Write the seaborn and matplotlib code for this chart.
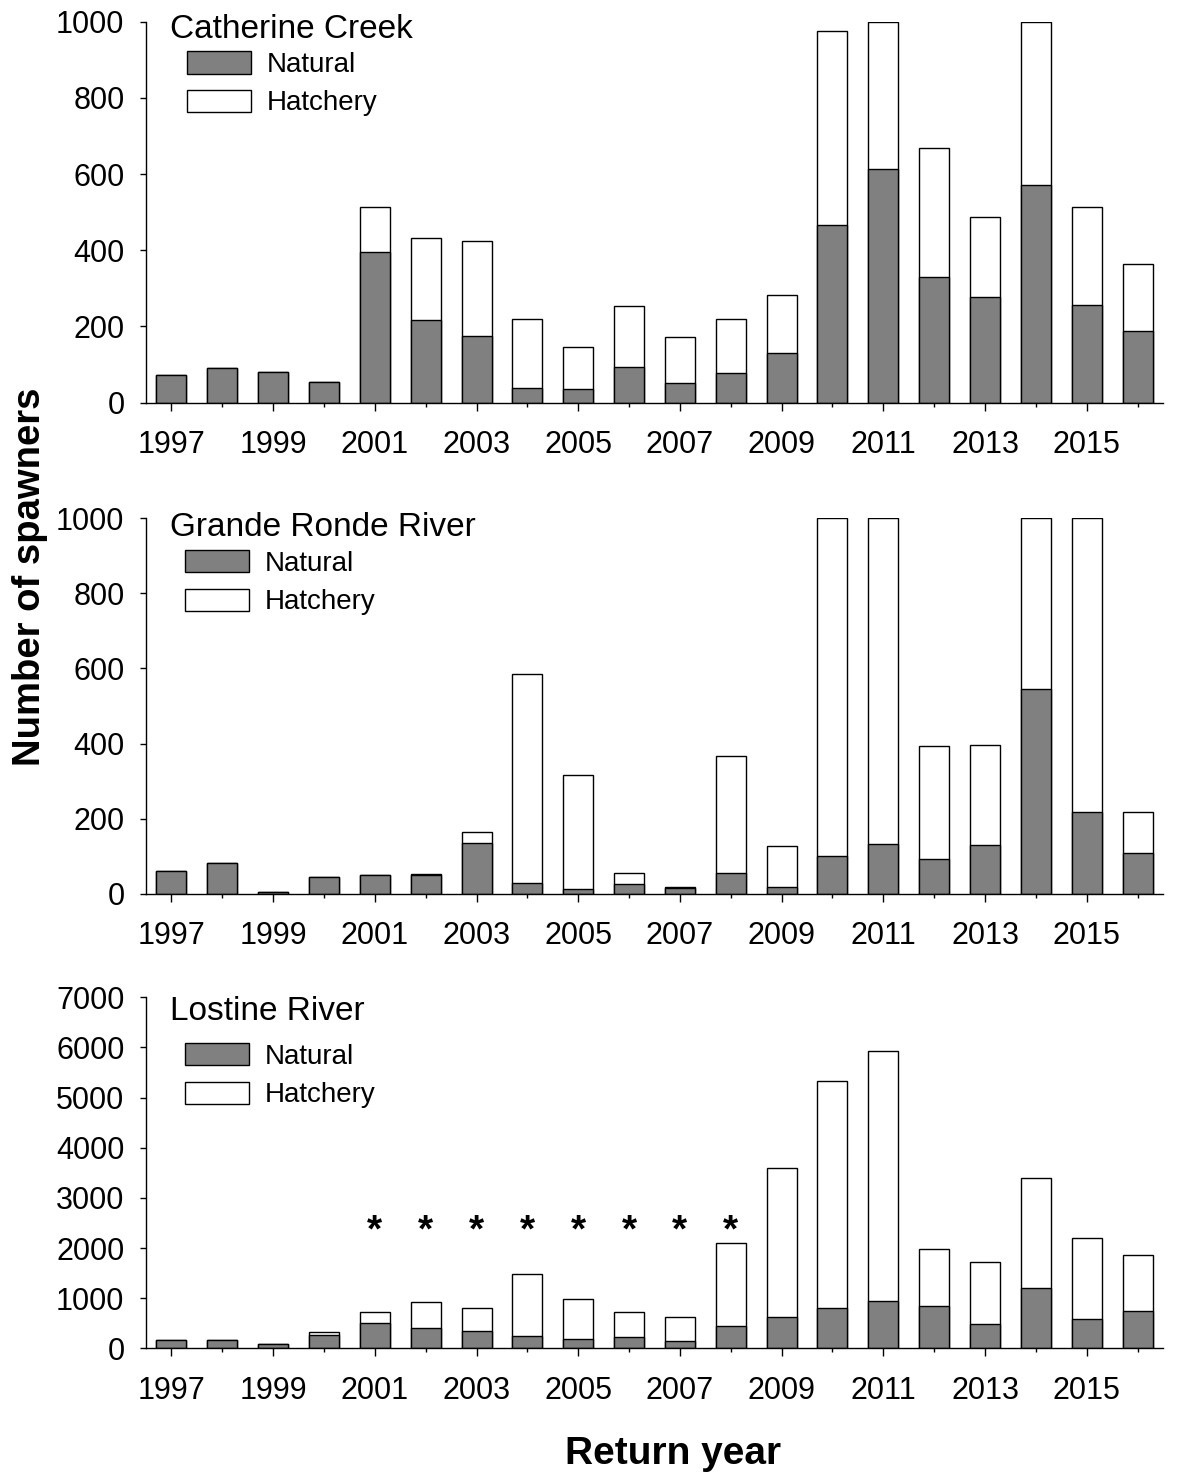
import numpy as np
import pandas as pd
import matplotlib
matplotlib.use('Agg')
import matplotlib.pyplot as plt
from matplotlib.patches import Patch
import seaborn as sns

years = list(range(1997, 2017))
catherine_natural = [72, 91, 81, 55, 396, 217, 175, 38, 37, 94, 51, 79, 129, 465, 613, 329, 276, 570, 255, 189]
catherine_total = [72, 91, 81, 55, 513, 433, 423, 219, 145, 253, 173, 220, 282, 975, 1000, 668, 488, 1000, 514, 364]
grande_natural = [61, 83, 4, 45, 50, 49, 136, 29, 12, 27, 14, 55, 18, 99, 131, 91, 130, 544, 218, 107]
grande_total = [61, 83, 4, 45, 50, 53, 165, 586, 315, 56, 17, 367, 126, 1000, 1000, 393, 397, 1000, 1000, 217]
lostine_natural = [160, 160, 80, 259, 499, 399, 352, 239, 180, 226, 153, 452, 632, 811, 951, 851, 492, 1210, 578, 738]
lostine_total = [160, 160, 80, 326, 718, 924, 798, 1489, 984, 731, 618, 2108, 3590, 5326, 5924, 1988, 1715, 3391, 2194, 1855]
star_years = [2001, 2002, 2003, 2004, 2005, 2006, 2007, 2008]
star_level = 2330

sns.set_style('ticks')
plt.rcParams['font.family'] = ['Liberation Sans', 'DejaVu Sans']
plt.rcParams['text.color'] = 'black'
plt.rcParams['xtick.color'] = 'black'
plt.rcParams['ytick.color'] = 'black'
plt.rcParams['axes.edgecolor'] = 'black'

fig = plt.figure(figsize=(11.8, 14.83), dpi=100)

# axes boxes in figure fractions: left, bottom, width, height
boxes = [
    [0.1237, 0.7285, 0.8619, 0.2569],
    [0.1237, 0.3974, 0.8619, 0.2531],
    [0.1237, 0.0908, 0.8619, 0.2367],
]
panels = [
    ('Catherine Creek', catherine_natural, catherine_total, 1000, 200, 0.957, (0.040, 0.922)),
    ('Grande Ronde River', grande_natural, grande_total, 1000, 200, 0.953, (0.038, 0.915)),
    ('Lostine River', lostine_natural, lostine_total, 7000, 1000, 0.935, (0.038, 0.869)),
]

for box, (name, nat, tot, ymax, ystep, ty, lpos) in zip(boxes, panels):
    ax = fig.add_axes(box)
    df = pd.DataFrame({'year': years, 'natural': nat, 'total': tot})
    # hatchery part sits on top of natural: draw total first, natural over it
    sns.barplot(data=df, x='year', y='total', native_scale=True, color='white',
                saturation=1, edgecolor='black', linewidth=1.0, width=0.59,
                errorbar=None, ax=ax)
    sns.barplot(data=df, x='year', y='natural', native_scale=True, color='#808080',
                saturation=1, edgecolor='black', linewidth=1.0, width=0.59,
                errorbar=None, ax=ax)

    ax.set_xlim(1996.5, 2016.5)
    ax.set_ylim(0, ymax)
    ax.set_yticks(np.arange(0, ymax + 1, ystep))
    ax.set_xticks(years[::2])
    ax.set_xticklabels([str(y) for y in years[::2]])
    ax.set_xticks(years[1::2], minor=True)
    ax.tick_params(axis='x', which='major', direction='out', length=6, width=1,
                   labelsize=22, pad=14)
    ax.tick_params(axis='x', which='minor', direction='out', length=3, width=1)
    ax.tick_params(axis='y', direction='out', length=4.5, width=1,
                   labelsize=22, pad=11)
    ax.set_xlabel('')
    ax.set_ylabel('')
    for s in ['top', 'right']:
        ax.spines[s].set_visible(False)
    for s in ['left', 'bottom']:
        ax.spines[s].set_linewidth(1.0)

    ax.text(0.024, ty, name, transform=ax.transAxes, fontsize=24,
            ha='left', va='baseline')

    handles = [Patch(facecolor='#808080', edgecolor='black', linewidth=1.0, label='Natural'),
               Patch(facecolor='white', edgecolor='black', linewidth=1.0, label='Hatchery')]
    ax.legend(handles=handles, loc='upper left', bbox_to_anchor=lpos,
              frameon=False, fontsize=20, handlelength=2.3, handleheight=0.85,
              handletextpad=0.6, labelspacing=0.42, borderpad=0, borderaxespad=0)

    if name == 'Lostine River':
        for yr in star_years:
            ax.text(yr, star_level, '*', ha='center', va='center',
                    fontsize=28, fontweight='bold')

fig.text(0.0254, 1 - 577 / 1483, 'Number of spawners', rotation=90,
         ha='center', va='center', fontsize=27.5, fontweight='bold')
fig.text(673 / 1180, 1 - 1454 / 1483, 'Return year', ha='center', va='center',
         fontsize=28, fontweight='bold')

fig.savefig('out.png', dpi=100)
